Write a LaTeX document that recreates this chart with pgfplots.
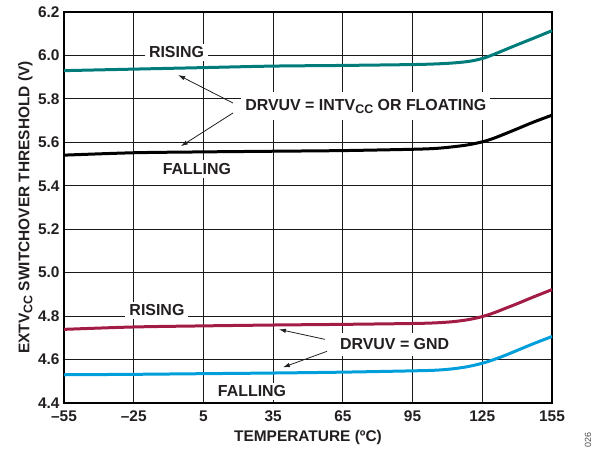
\documentclass[border=0pt]{standalone}
\usepackage{fontspec}
\setmainfont{Liberation Sans}
\usepackage{pgfplots}
\pgfplotsset{compat=1.18}
\usetikzlibrary{arrows.meta}

\definecolor{adiTeal}{RGB}{0,125,122}
\definecolor{adiRed}{RGB}{163,28,70}
\definecolor{adiBlue}{RGB}{0,158,219}
\definecolor{txt}{RGB}{35,31,32}

\newcommand\cc{\raisebox{-3bp}{\fontsize{12.5}{12.5}\selectfont CC}}

\begin{document}
\begin{tikzpicture}
  \begin{axis}[
      at={(0,0)}, anchor=south west,
      scale only axis,
      width=488bp, height=391bp,
      xmin=-55, xmax=155,
      ymin=4.4, ymax=6.2,
      xtick={-55,-25,5,35,65,95,125,155},
      xticklabels={–55,–25,5,35,65,95,125,155},
      ytick={4.4,4.6,4.8,5.0,5.2,5.4,5.6,5.8,6.0,6.2},
      yticklabels={4.4,4.6,4.8,5.0,5.2,5.4,5.6,5.8,6.0,6.2},
      grid=major,
      major grid style={black!90, line width=1.1bp},
      major tick length=0pt,
      axis line style={black, line width=1.8bp},
      tick label style={font=\fontsize{15.5}{15.5}\selectfont\bfseries, text=txt},
      xticklabel style={yshift=-4bp},
      yticklabel style={xshift=-1bp},
      label style={font=\fontsize{15.5}{15.5}\selectfont\bfseries, text=txt},
      xlabel={TEMPERATURE (ºC)},
      ylabel={EXTV\cc\ SWITCHOVER THRESHOLD (V)},
      xlabel style={at={(axis description cs:0.5,-0.0895)}, anchor=center},
      ylabel style={at={(axis description cs:-0.079,0.5)}, anchor=center},
      clip=false,
    ]

    % DRVUV = INTVcc or floating, rising
    \addplot[adiTeal, line width=3bp, smooth] coordinates {
      (-55,5.930)(-25,5.937)(5,5.944)(35,5.951)(65,5.954)(95,5.958)(105,5.961)
      (112,5.965)(118,5.971)(122,5.978)(126,5.989)(130,6.005)(135,6.027)
      (140,6.049)(147,6.079)(155,6.114)
    };
    % falling
    \addplot[black, line width=3bp, smooth] coordinates {
      (-55,5.541)(-25,5.552)(5,5.556)(35,5.559)(65,5.562)(95,5.568)(105,5.572)
      (112,5.579)(118,5.587)(122,5.595)(126,5.605)(130,5.619)(135,5.640)
      (140,5.662)(147,5.693)(155,5.725)
    };
    % DRVUV = GND, rising
    \addplot[adiRed, line width=3bp, smooth] coordinates {
      (-55,4.739)(-25,4.750)(5,4.755)(35,4.759)(65,4.762)(95,4.766)(105,4.769)
      (112,4.774)(118,4.782)(122,4.790)(126,4.801)(130,4.815)(135,4.836)
      (140,4.857)(147,4.888)(155,4.922)
    };
    % falling
    \addplot[adiBlue, line width=3bp, smooth] coordinates {
      (-55,4.530)(-25,4.532)(5,4.535)(35,4.538)(65,4.542)(95,4.548)(105,4.551)
      (112,4.557)(118,4.566)(122,4.575)(126,4.586)(130,4.600)(135,4.620)
      (140,4.642)(147,4.673)(155,4.706)
    };

    \tikzset{lbl/.style={fill=white, text=txt, inner xsep=4bp, inner ysep=3bp,
        font=\fontsize{16}{16}\selectfont\bfseries}}
    \tikzset{arr/.style={txt, line width=0.8bp, -{Latex[length=7bp,width=4.5bp]}}}

    \node[lbl] at (axis cs:-6.6,6.015) {RISING};
    \node[lbl] at (axis cs:2.2,5.477) {FALLING};
    \node[lbl, anchor=west, inner ysep=7bp] at (axis cs:21.2,5.767) {DRVUV = INTV\cc\ OR FLOATING};
    \draw[arr] (axis cs:17.7,5.781) -- (axis cs:-5.9,5.910);
    \draw[arr] (axis cs:17.7,5.735) -- (axis cs:-4.7,5.582);

    \node[lbl] at (axis cs:-15,4.827) {RISING};
    \node[lbl] at (axis cs:25.9,4.453) {FALLING};
    \node[lbl, anchor=west, inner ysep=6bp] at (axis cs:62.0,4.670) {DRVUV = GND};
    \draw[arr] (axis cs:57.3,4.693) -- (axis cs:37.5,4.739);
    \draw[arr] (axis cs:58.2,4.638) -- (axis cs:39.2,4.564);

    \node[rotate=90, font=\fontsize{9}{9}\selectfont, text=black!70] at (axis cs:170.5,4.228) {026};
  \end{axis}
  \pgfresetboundingbox
  \path[use as bounding box] (-64bp,-47bp) rectangle (536bp,403bp);
\end{tikzpicture}
\end{document}
